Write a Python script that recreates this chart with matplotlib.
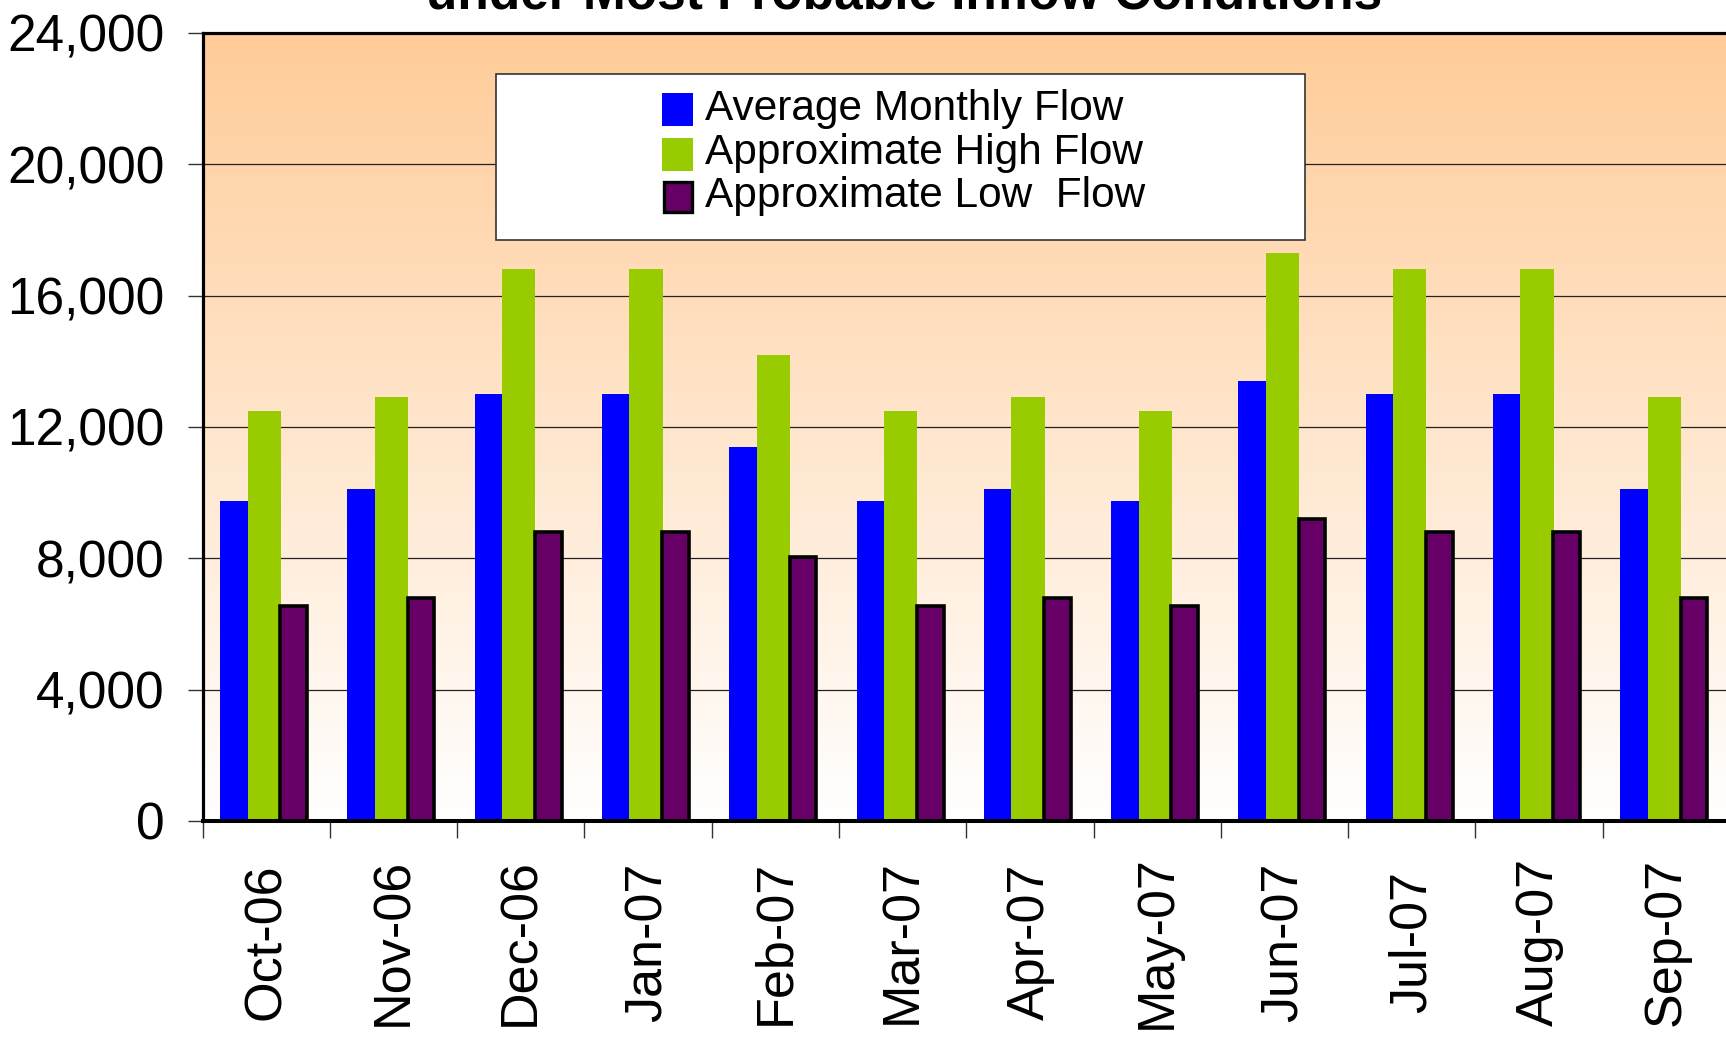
import numpy as np
import matplotlib
matplotlib.use("Agg")
import matplotlib.pyplot as plt
from matplotlib.patches import Rectangle
from matplotlib.transforms import blended_transform_factory

plt.rcParams['font.family'] = ['Liberation Sans', 'DejaVu Sans']

# ---- data ----
months = ["Oct-06", "Nov-06", "Dec-06", "Jan-07", "Feb-07", "Mar-07",
          "Apr-07", "May-07", "Jun-07", "Jul-07", "Aug-07", "Sep-07"]
avg_flow = [9750, 10100, 13000, 13000, 11400, 9750, 10100, 9750, 13400, 13000, 13000, 10100]
high_flow = [12500, 12900, 16800, 16800, 14200, 12500, 12900, 12500, 17300, 16800, 16800, 12900]
low_flow = [6550, 6800, 8800, 8800, 8050, 6550, 6800, 6550, 9200, 8800, 8800, 6800]
y_ticks = [0, 4000, 8000, 12000, 16000, 20000, 24000]
series_names = ["Average Monthly Flow", "Approximate High Flow", "Approximate Low  Flow"]
title_text = "under Most Probable Inflow Conditions"

W, H = 1726, 1038
fig = plt.figure(figsize=(W / 100, H / 100), dpi=100)
fig.patch.set_facecolor("white")


def fx(x):
    return x / W


def fy(y):
    return 1 - y / H


ax = fig.add_axes([fx(202.5), fy(821), (1730 - 202.5) / W, (821 - 33) / H])
ax.set_xlim(0, 12)
ax.set_ylim(0, 24000)

# gradient background
top = np.array([1.0, 0.80, 0.60])
bot = np.array([1.0, 1.0, 1.0])
t = np.linspace(0, 1, 256)[:, None, None]
grad = top * (1 - t) + bot * t
ax.imshow(grad, extent=[0, 12, 0, 24000], aspect='auto', origin='upper', zorder=0)

# grid
for v in y_ticks[1:-1]:
    ax.axhline(v, color='#222222', lw=0.9, zorder=1)

idx = np.arange(len(months))
ax.bar(idx + 0.246, avg_flow, width=0.216, color='#0000FF', linewidth=0, zorder=2)
ax.bar(idx + 0.4845, high_flow, width=0.261, color='#99CC00', linewidth=0, zorder=3)
ax.bar(idx + 0.717, low_flow, width=0.21, color='#660066', edgecolor='black', linewidth=2.6, zorder=4)

# spines
for s in ['left', 'top', 'right']:
    ax.spines[s].set_linewidth(2.3)
    ax.spines[s].set_color('black')
ax.spines['bottom'].set_linewidth(2.9)
ax.spines['bottom'].set_color('black')
for s in ax.spines.values():
    s.set_zorder(6)

ax.set_yticks(y_ticks)
ax.set_yticklabels([f"{v:,}" for v in y_ticks])
ax.tick_params(axis='y', direction='out', length=10.8, width=1, color='#333333',
               pad=16.5, labelsize=37)
ax.set_xticks(np.arange(13))
ax.set_xticklabels([])
ax.tick_params(axis='x', direction='out', length=12, width=1, color='#333333')

trans = blended_transform_factory(ax.transData, fig.transFigure)
for i, m in enumerate(months):
    ax.text(i + 0.5, fy(942), m, transform=trans, rotation=90, ha='center', va='center',
            fontsize=37.5)

# title (partially cut off at the top, as in the reference)
fig.text(fx(904), fy(8.3), title_text, ha='center', va='baseline', fontsize=37,
         fontweight='bold')

# legend (manual)
fig.add_artist(Rectangle((fx(495.7), fy(240)), (1305 - 495.7) / W, (240 - 74) / H,
                         transform=fig.transFigure, facecolor='white', edgecolor='#333333',
                         linewidth=1.2, zorder=10))
colors = ['#0000FF', '#99CC00', '#660066']
edges = [None, None, 'black']
mk_tops = [92.7, 138.3, 181.5]
baselines = [120, 164.5, 207.5]
for name, c, e, mt, bl in zip(series_names, colors, edges, mk_tops, baselines):
    fig.add_artist(Rectangle((fx(662 if e is None else 663.5), fy(mt + 33 if e is None else mt + 30.5)),
                             (31 if e is None else 28) / W, (33 if e is None else 30.5) / H,
                             transform=fig.transFigure, facecolor=c,
                             edgecolor=e if e else 'none', linewidth=2.4 if e else 0, zorder=11))
    fig.text(fx(705), fy(bl), name, ha='left', va='baseline', fontsize=30.5, zorder=12)

fig.savefig("out.png", dpi=100)
